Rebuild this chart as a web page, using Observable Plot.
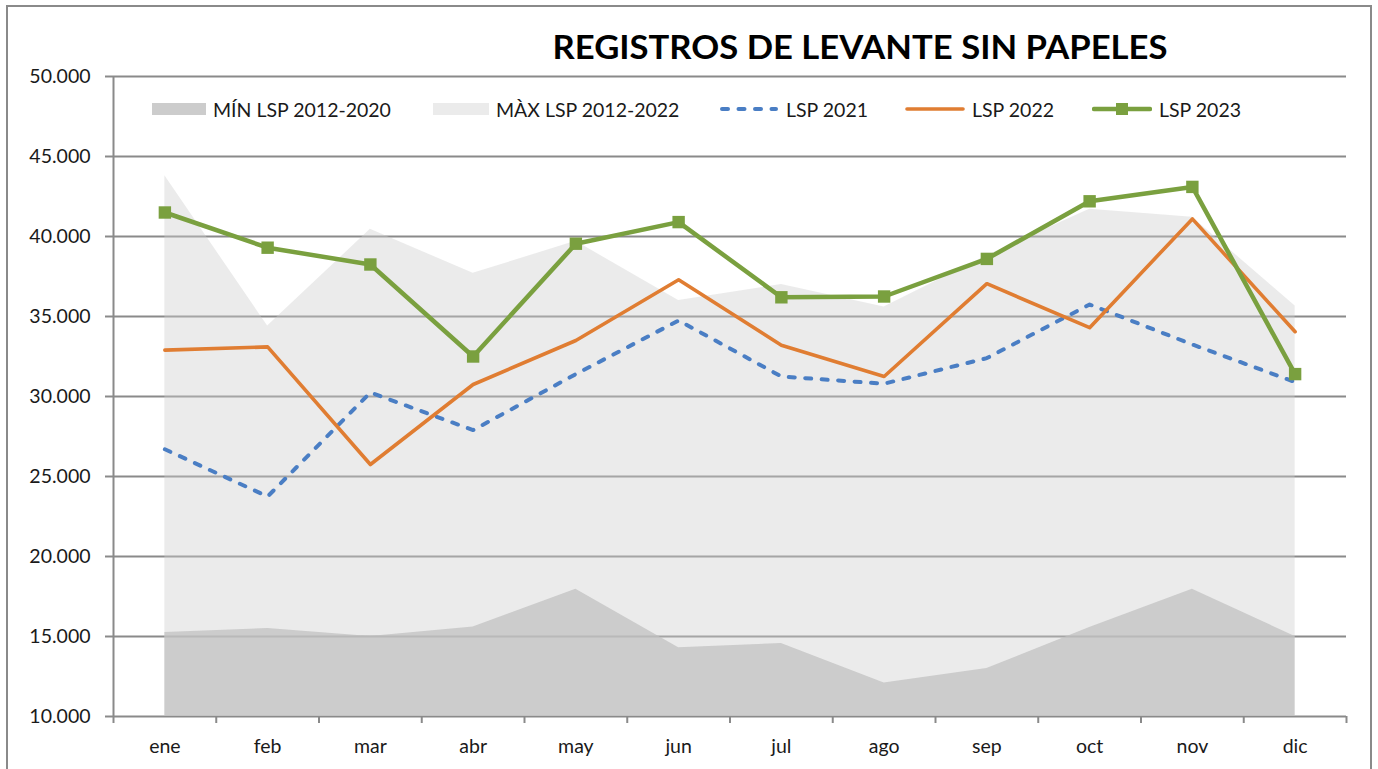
<!DOCTYPE html>
<html>
<head>
<meta charset="utf-8">
<script src="https://cdn.jsdelivr.net/npm/d3@7"></script>
<script src="https://cdn.jsdelivr.net/npm/@observablehq/plot@0.6"></script>
<style>
  html, body { margin: 0; padding: 0; background: #fff; overflow: hidden; }
  #wrap { position: relative; width: 1378px; height: 769px; font-family: Lato, "Open Sans", sans-serif; }
  #frame { position: absolute; left: 6px; top: 5px; width: 1366px; height: 840px; border: 2px solid #8a8a8a; box-sizing: border-box; pointer-events: none; }
  #chart { position: absolute; left: 0; top: 0; }
  #title { position: absolute; left: 0; top: 0; }
  .leg { position: absolute; top: 96px; height: 26px; display: flex; align-items: center; font-size: 19.5px; color: #1a1a1a; white-space: nowrap; }
  .leg svg { margin-right: 7px; }
</style>
</head>
<body>
<div id="wrap">
  <div id="chart"></div>
  <svg id="title" width="1378" height="75">
    <text x="860" y="59" text-anchor="middle" font-family="Lato, 'Open Sans', sans-serif" font-weight="bold" font-size="33" fill="#000" textLength="615" lengthAdjust="spacingAndGlyphs">REGISTROS DE LEVANTE SIN PAPELES</text>
  </svg>
  <div id="legend"></div>
  <div id="frame"></div>
</div>
<script>
// ---- data ----
const months = ["ene", "feb", "mar", "abr", "may", "jun", "jul", "ago", "sep", "oct", "nov", "dic"];
const minLSP  = [15250, 15500, 15000, 15600, 17950, 14300, 14560, 12100, 13000, 15560, 17950, 15000];
const maxLSP  = [43800, 34400, 40450, 37700, 39700, 36000, 37000, 35600, 38800, 41700, 41200, 35650];
const lsp2021 = [26700, 23750, 30250, 27900, 31400, 34750, 31250, 30800, 32400, 35750, 33250, 30900];
const lsp2022 = [32900, 33100, 25750, 30750, 33500, 37300, 33200, 31250, 37050, 34300, 41100, 34050];
const lsp2023 = [41500, 39300, 38250, 32500, 39550, 40900, 36200, 36250, 38600, 42200, 43100, 31400];
const seriesNames = ["MÍN LSP 2012-2020", "MÀX LSP 2012-2022", "LSP 2021", "LSP 2022", "LSP 2023"];
const yTicks = d3.range(10000, 50001, 5000);

// ---- styles ----
const gridColor = "#8a8a8a";
const blue = "#4A7EC4", orange = "#E07D32", green = "#7AA03F";

const fmt = d3.formatLocale({decimal: ",", thousands: ".", grouping: [3], currency: ["", "€"]}).format(",.0f");
const idx = d3.range(months.length);
const xBounds = d3.range(-0.5, months.length, 1);

const plot = Plot.plot({
  width: 1378,
  height: 769,
  marginLeft: 113,
  marginRight: 32,
  marginTop: 76,
  marginBottom: 53,
  style: {fontFamily: "Lato, 'Open Sans', sans-serif", fontSize: "19.5px", color: "#1a1a1a", background: "transparent", overflow: "visible"},
  x: {type: "linear", domain: [-0.5, months.length - 0.5], axis: null},
  y: {domain: [10000, 50000], axis: null},
  marks: [
    Plot.ruleY(yTicks, {stroke: gridColor, strokeWidth: 2}),
    Plot.areaY(idx, {x: i => i, y: i => maxLSP[i], fill: "#cdcdcd", fillOpacity: 0.4, clip: true}),
    Plot.areaY(idx, {x: i => i, y: i => minLSP[i], fill: "#c0c0c0", fillOpacity: 0.73, clip: true}),
    Plot.ruleX([-0.5], {stroke: gridColor, strokeWidth: 2}),
    Plot.axisY({ticks: yTicks, tickSize: 8, tickPadding: 15, tickFormat: fmt, stroke: gridColor, strokeWidth: 2, fill: "#1a1a1a"}),
    Plot.axisX({ticks: xBounds, tickSize: 7, tickFormat: () => "", stroke: gridColor, strokeWidth: 2}),
    Plot.axisX({ticks: idx, tickSize: 0, tickPadding: 23, tickFormat: i => months[i], fill: "#1a1a1a"}),
    Plot.line(idx, {x: i => i, y: i => lsp2021[i], stroke: blue, strokeWidth: 4, strokeDasharray: "6,10.5", strokeLinecap: "round", strokeLinejoin: "round"}),
    Plot.line(idx, {x: i => i, y: i => lsp2022[i], stroke: orange, strokeWidth: 3.6, strokeLinecap: "round", strokeLinejoin: "round"}),
    Plot.line(idx, {x: i => i, y: i => lsp2023[i], stroke: green, strokeWidth: 4.5, strokeLinecap: "round", strokeLinejoin: "round"}),
    Plot.dot(idx, {x: i => i, y: i => lsp2023[i], symbol: "square", r: 7, fill: green, stroke: "none"})
  ]
});
document.getElementById("chart").appendChild(plot);

// ---- legend (overlaid inside the plot area, as in the original) ----
const legendLeft = [152, 433, 719, 905, 1092];
const swatches = [
  `<svg width="54" height="14"><rect x="0" y="1" width="54" height="12" fill="#cccccc"/></svg>`,
  `<svg width="56" height="14"><rect x="0" y="1" width="56" height="12" fill="#ebebeb"/></svg>`,
  `<svg width="60" height="14"><line x1="3" y1="7" x2="57" y2="7" stroke="${blue}" stroke-width="4" stroke-dasharray="6,10.5" stroke-linecap="round"/></svg>`,
  `<svg width="60" height="14"><line x1="2" y1="7" x2="58" y2="7" stroke="${orange}" stroke-width="3.6" stroke-linecap="round"/></svg>`,
  `<svg width="60" height="14"><line x1="2" y1="7" x2="58" y2="7" stroke="${green}" stroke-width="4.5" stroke-linecap="round"/><rect x="24" y="1" width="12" height="12" fill="${green}"/></svg>`
];
const legend = document.getElementById("legend");
seriesNames.forEach((name, k) => {
  const d = document.createElement("div");
  d.className = "leg";
  d.style.left = legendLeft[k] + "px";
  d.innerHTML = swatches[k] + `<span>${name}</span>`;
  legend.appendChild(d);
});
</script>
</body>
</html>
